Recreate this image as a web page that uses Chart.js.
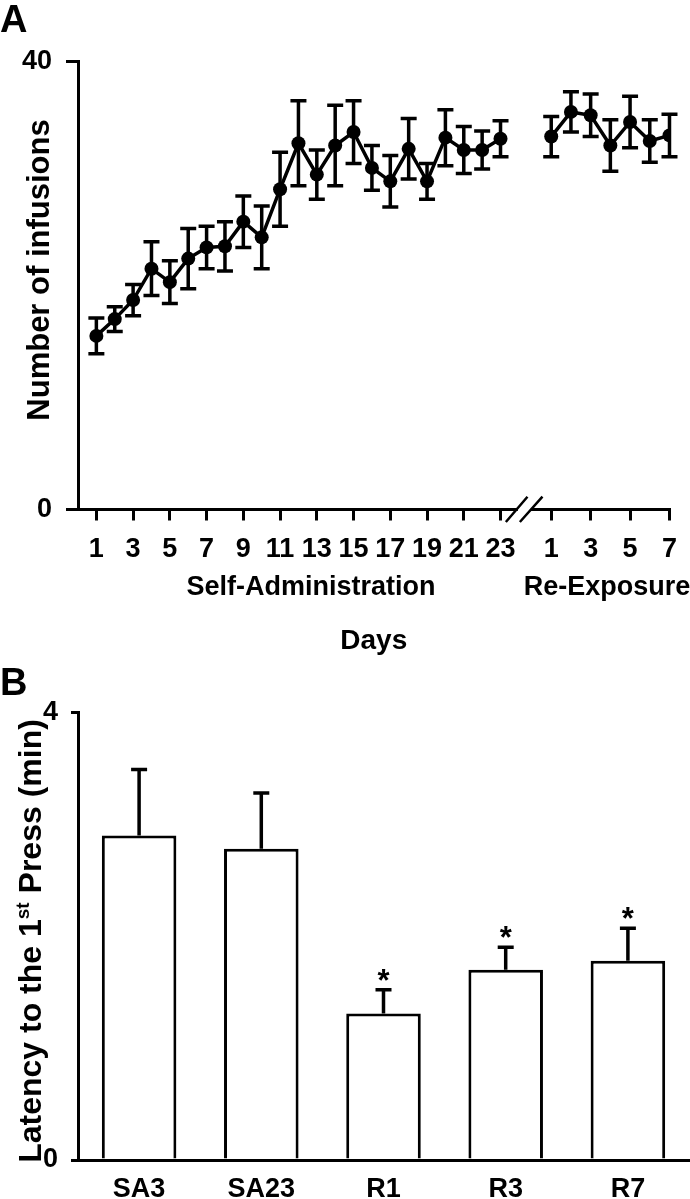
<!DOCTYPE html>
<html>
<head>
<meta charset="utf-8">
<script src="https://cdn.jsdelivr.net/npm/chart.js@4.4.1/dist/chart.umd.min.js"></script>
<style>
  html, body { margin: 0; padding: 0; background: #fff; }
  body { width: 690px; height: 1199px; position: relative; overflow: hidden; font-family: "Liberation Sans", Arial, sans-serif; }
  .box { position: absolute; left: 0; width: 690px; }
  .letter { position: absolute; left: 0; font-weight: bold; font-size: 38px; line-height: 1; color: #000; }
</style>
</head>
<body>
<div class="box" style="top:0;height:680px"><canvas id="chart-a"></canvas></div>
<div class="box" style="top:650px;height:549px"><canvas id="chart-b"></canvas></div>
<div class="letter" style="top:0">A</div>
<div class="letter" style="top:663px">B</div>
<script>
// Panel A: infusions per day (mean, SEM)
const saDays = [1, 2, 3, 4, 5, 6, 7, 8, 9, 10, 11, 12, 13, 14, 15, 16, 17, 18, 19, 20, 21, 22, 23];
const saMeans = [15.5, 17.0, 18.7, 21.5, 20.3, 22.4, 23.4, 23.5, 25.7, 24.3, 28.6, 32.7, 29.9, 32.5, 33.7, 30.5, 29.3, 32.2, 29.3, 33.2, 32.1, 32.1, 33.1];
const saSem = [1.6, 1.1, 1.4, 2.4, 1.9, 2.7, 1.9, 2.2, 2.3, 2.8, 3.3, 3.8, 2.2, 3.6, 2.8, 2.0, 2.3, 2.7, 1.6, 2.5, 2.1, 1.7, 1.6];
const reDays = [1, 2, 3, 4, 5, 6, 7];
const reMeans = [33.3, 35.5, 35.2, 32.5, 34.6, 32.9, 33.4];
const reSem = [1.8, 1.8, 1.9, 2.3, 2.3, 1.9, 1.9];
const saTickDays = [1, 3, 5, 7, 9, 11, 13, 15, 17, 19, 21, 23];
const reTickDays = [1, 3, 5, 7];
const infusionTicks = [0, 40];

// Panel B: latency to first press (min)
const groups = ["SA3", "SA23", "R1", "R3", "R7"];
const latency = [2.90, 2.78, 1.31, 1.70, 1.78];
const latencySem = [0.59, 0.50, 0.21, 0.20, 0.29];
const significant = [false, false, true, true, true];

// re-exposure days sit after the axis break
const RE_START = 25.76;
const RE_STEP = 1.073;
const rePos = (d) => RE_START + (d - 1) * RE_STEP;

const FONT = "'Liberation Sans', Arial, sans-serif";
Chart.defaults.font.family = FONT;
Chart.defaults.color = "#000";

const bold = (size) => ({ family: FONT, size, weight: "bold" });

const errorBars = {
  id: "errorBars",
  afterDatasetsDraw(chart) {
    const { ctx } = chart;
    const ys = chart.scales.y;
    chart.data.datasets.forEach((ds, i) => {
      if (!ds.sem) return;
      const meta = chart.getDatasetMeta(i);
      meta.data.forEach((el, j) => {
        const raw = ds.data[j];
        const v = typeof raw === "object" ? raw.y : raw;
        const top = ys.getPixelForValue(v + ds.sem[j]);
        const bot = ds.upOnly ? el.y : ys.getPixelForValue(v - ds.sem[j]);
        ctx.save();
        ctx.strokeStyle = "#000";
        ctx.lineWidth = 3.5;
        ctx.beginPath();
        ctx.moveTo(el.x, bot);
        ctx.lineTo(el.x, top);
        ctx.moveTo(el.x - 8, top);
        ctx.lineTo(el.x + 8, top);
        if (!ds.upOnly) {
          ctx.moveTo(el.x - 8, bot);
          ctx.lineTo(el.x + 8, bot);
        }
        ctx.stroke();
        if (ds.stars && ds.stars[j]) {
          ctx.fillStyle = "#000";
          ctx.font = "bold 31px " + FONT;
          ctx.textAlign = "center";
          ctx.textBaseline = "alphabetic";
          ctx.fillText("*", el.x, top + 1);
        }
        ctx.restore();
      });
    });
  },
};

const axisBreak = {
  id: "axisBreak",
  afterDraw(chart) {
    const { ctx } = chart;
    const xs = chart.scales.x;
    const x = xs.getPixelForValue((saDays[saDays.length - 1] + rePos(reDays[0])) / 2);
    const y = chart.chartArea.bottom;
    ctx.save();
    ctx.fillStyle = "#fff";
    ctx.fillRect(x - 8, y - 3, 13, 6);
    ctx.strokeStyle = "#000";
    ctx.lineWidth = 2.5;
    ctx.beginPath();
    ctx.moveTo(x - 20, y + 12.5);
    ctx.lineTo(x + 1.6, y - 12.8);
    ctx.moveTo(x - 6, y + 12.5);
    ctx.lineTo(x + 16.6, y - 12.8);
    ctx.stroke();
    ctx.restore();
  },
};

const groupLabels = {
  id: "groupLabels",
  afterDraw(chart, args, opts) {
    const { ctx } = chart;
    ctx.save();
    ctx.fillStyle = "#000";
    ctx.font = "bold 27px " + FONT;
    ctx.textBaseline = "middle";
    ctx.textAlign = "center";
    opts.items.forEach((it) => ctx.fillText(it.text, it.x, opts.y));
    ctx.restore();
  },
};

// rotated y title; parts allow a superscript
const yTitle = {
  id: "yTitle",
  afterDraw(chart, args, opts) {
    const { ctx } = chart;
    ctx.save();
    ctx.fillStyle = "#000";
    ctx.textBaseline = "alphabetic";
    ctx.textAlign = "left";
    let total = 0;
    opts.parts.forEach((p) => {
      ctx.font = "bold " + p.size + "px " + FONT;
      p.w = ctx.measureText(p.t).width;
      total += p.w;
    });
    ctx.translate(opts.x, opts.y);
    ctx.rotate(-Math.PI / 2);
    let cx = -total / 2;
    opts.parts.forEach((p) => {
      ctx.font = "bold " + p.size + "px " + FONT;
      ctx.fillText(p.t, cx, 11 + (p.dy || 0));
      cx += p.w;
    });
    ctx.restore();
  },
};

const tickVals = [...saTickDays, ...reTickDays.map(rePos)];
const tickLabels = [...saTickDays, ...reTickDays].map(String);

const lineStyle = {
  borderColor: "#000",
  borderWidth: 3.5,
  pointRadius: 7,
  pointBackgroundColor: "#000",
  pointBorderWidth: 0,
  tension: 0,
};

new Chart(document.getElementById("chart-a"), {
  type: "line",
  data: {
    datasets: [
      { data: saDays.map((d, i) => ({ x: d, y: saMeans[i] })), sem: saSem, ...lineStyle },
      { data: reDays.map((d, i) => ({ x: rePos(d), y: reMeans[i] })), sem: reSem, ...lineStyle },
    ],
  },
  options: {
    responsive: true,
    maintainAspectRatio: false,
    animation: false,
    events: [],
    layout: { padding: { top: 61.5, right: 9, left: 0, bottom: 0 } },
    plugins: {
      legend: { display: false },
      tooltip: { enabled: false },
      groupLabels: {
        y: 588,
        items: [
          { text: "Self-Administration", x: 311 },
          { text: "Re-Exposure", x: 607 },
        ],
      },
      yTitle: { x: 38, y: 270, parts: [{ t: "Number of infusions", size: 31 }] },
    },
    scales: {
      x: {
        type: "linear",
        min: 0,
        max: 32.2,
        afterBuildTicks: (s) => {
          s.ticks = tickVals.map((v) => ({ value: v }));
        },
        afterFit: (s) => {
          s.height = 170.5;
        },
        ticks: {
          autoSkip: false,
          maxRotation: 0,
          color: "#000",
          font: bold(27),
          padding: 13,
          callback: (v, i) => tickLabels[i],
        },
        grid: { drawOnChartArea: false, drawTicks: true, tickLength: 11, color: "#000", lineWidth: 3 },
        border: { color: "#000", width: 3 },
        title: { display: true, text: "Days", color: "#000", font: bold(28), padding: { top: 0, bottom: 22 } },
      },
      y: {
        min: 0,
        max: 40,
        afterBuildTicks: (s) => {
          s.ticks = infusionTicks.map((v) => ({ value: v }));
        },
        afterFit: (s) => {
          s.width = 78;
        },
        ticks: { color: "#000", font: bold(27), padding: 14 },
        grid: { drawOnChartArea: false, drawTicks: true, tickLength: 12, color: "#000", lineWidth: 3 },
        border: { color: "#000", width: 3 },
      },
    },
  },
  plugins: [errorBars, axisBreak, groupLabels, yTitle],
});

new Chart(document.getElementById("chart-b"), {
  type: "bar",
  data: {
    labels: groups,
    datasets: [
      {
        data: latency,
        sem: latencySem,
        stars: significant,
        upOnly: true,
        backgroundColor: "#fff",
        borderColor: "#000",
        borderWidth: 3,
        barPercentage: 0.61,
        categoryPercentage: 1,
        borderSkipped: "start",
      },
    ],
  },
  options: {
    responsive: true,
    maintainAspectRatio: false,
    animation: false,
    events: [],
    layout: { padding: { top: 62.3, right: 1, left: 0, bottom: 0 } },
    plugins: {
      legend: { display: false },
      tooltip: { enabled: false },
      yTitle: {
        x: 30,
        y: 291,
        parts: [
          { t: "Latency to the 1", size: 32 },
          { t: "st", size: 19, dy: -12 },
          { t: " Press (min)", size: 32 },
        ],
      },
    },
    scales: {
      x: {
        afterFit: (s) => {
          s.height = 39;
        },
        ticks: { color: "#000", font: bold(27), padding: 13 },
        grid: { drawOnChartArea: false, drawTicks: false },
        border: { color: "#000", width: 3 },
      },
      y: {
        min: 0,
        max: 4,
        ticks: { stepSize: 4, color: "#000", font: bold(27), padding: 13 },
        afterFit: (s) => {
          s.width = 78;
        },
        grid: { drawOnChartArea: false, drawTicks: true, tickLength: 7, color: "#000", lineWidth: 3 },
        border: { color: "#000", width: 3 },
      },
    },
  },
  plugins: [errorBars, yTitle],
});
</script>
</body>
</html>
